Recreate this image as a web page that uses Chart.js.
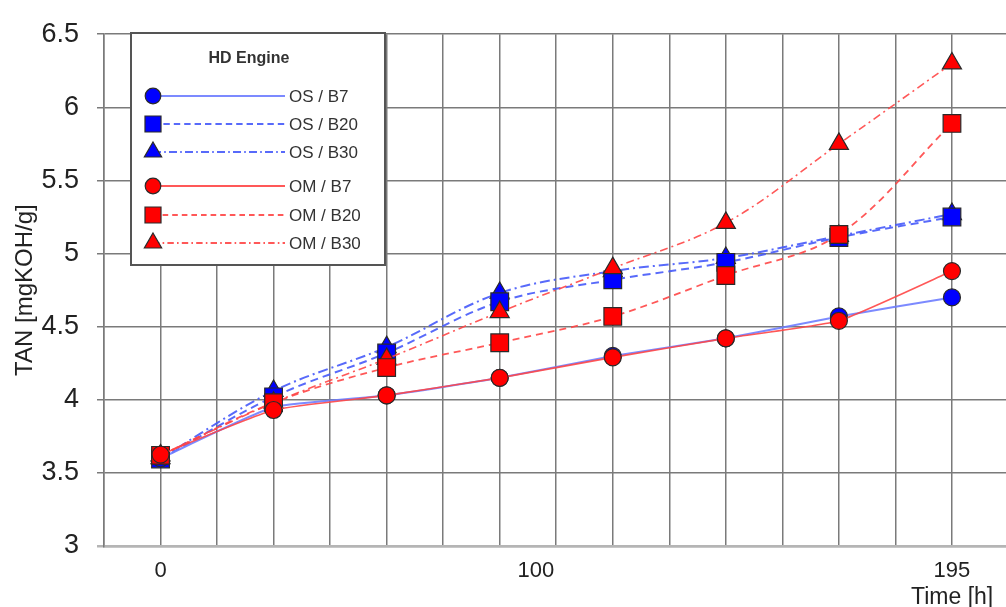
<!DOCTYPE html>
<html>
<head>
<meta charset="utf-8">
<script src="https://cdn.jsdelivr.net/npm/chart.js@4"></script>
<style>
  html, body { margin: 0; padding: 0; background: #fff; overflow: hidden; }
</style>
</head>
<body>
<canvas id="tanChart" width="1006" height="607"></canvas>
<script>
// sample slots (one every two grid cells), x tick labels and series
const samplePos = [0, 1, 2, 3, 4, 5, 6, 7];
const timeTickPos = [0, 3.32, 7];
const timeTickLabels = ['0', '100', '195'];
const seriesNames = ['OS / B7', 'OS / B20', 'OS / B30', 'OM / B7', 'OM / B20', 'OM / B30'];

const osB7  = [3.60, 3.95, 4.03, 4.15, 4.30, 4.42, 4.57, 4.70];
const osB20 = [3.595, 4.02, 4.32, 4.67, 4.82, 4.94, 5.11, 5.25];
const osB30 = [3.60, 4.06, 4.36, 4.73, 4.88, 4.97, 5.12, 5.27];
const omB7  = [3.625, 3.93, 4.03, 4.15, 4.29, 4.42, 4.54, 4.88];
const omB20 = [3.62, 3.98, 4.22, 4.39, 4.57, 4.85, 5.13, 5.89];
const omB30 = [3.62, 3.98, 4.28, 4.60, 4.90, 5.21, 5.75, 6.30];

const FONT = "'Liberation Sans', Arial, sans-serif";
const GRID = '#7a7a7a';
const BASE = '#b5b5b5';

function pts(vals) {
  return vals.map((v, i) => ({ x: samplePos[i], y: v }));
}

function series(label, vals, opts) {
  return Object.assign({
    label: label,
    data: pts(vals),
    pointBorderColor: '#2a2a2a',
    pointBorderWidth: 1.2,
    borderWidth: 2,
    fill: false
  }, opts);
}

const blueLine = 'rgba(70,90,250,0.9)';
const redLine = 'rgba(255,70,70,0.9)';

const datasets = [
  series(seriesNames[0], osB7,  { borderColor: 'rgba(110,125,255,0.9)', pointBackgroundColor: '#0000ff', pointStyle: 'circle', pointRadius: 8.5, borderDash: [], tension: 0.15, order: 3 }),
  series(seriesNames[1], osB20, { borderColor: blueLine, pointBackgroundColor: '#0000ff', pointStyle: 'rect', pointRadius: 12.5, borderDash: [8, 5], tension: 0.35, order: 4 }),
  series(seriesNames[2], osB30, { borderColor: blueLine, pointBackgroundColor: '#0000ff', pointStyle: 'triangle', pointRadius: 11, borderDash: [10, 4, 2, 4], tension: 0.35, order: 5 }),
  series(seriesNames[3], omB7,  { borderColor: redLine, pointBackgroundColor: '#ff0000', pointStyle: 'circle', pointRadius: 8.5, borderDash: [], borderWidth: 1.6, tension: 0.15, order: 0 }),
  series(seriesNames[4], omB20, { borderColor: redLine, pointBackgroundColor: '#ff0000', pointStyle: 'rect', pointRadius: 12.5, borderDash: [7, 5], borderWidth: 1.8, tension: 0.35, order: 1 }),
  series(seriesNames[5], omB30, { borderColor: redLine, pointBackgroundColor: '#ff0000', pointStyle: 'triangle', pointRadius: 11, borderDash: [8, 4, 2, 4], borderWidth: 1.6, tension: 0.35, order: 2 })
];

// marker used in the boxed legend
function drawMarker(ctx, style, x, y, fill) {
  ctx.save();
  ctx.fillStyle = fill;
  ctx.strokeStyle = '#2a2a2a';
  ctx.lineWidth = 1.2;
  ctx.setLineDash([]);
  ctx.beginPath();
  if (style === 'circle') {
    ctx.arc(x, y, 7.8, 0, Math.PI * 2);
  } else if (style === 'rect') {
    ctx.rect(x - 8, y - 8, 16, 16);
  } else {
    const r = 10;
    ctx.moveTo(x, y - r);
    ctx.lineTo(x + r * 0.866, y + r / 2);
    ctx.lineTo(x - r * 0.866, y + r / 2);
    ctx.closePath();
  }
  ctx.fill();
  ctx.stroke();
  ctx.restore();
}

const boxLegend = {
  id: 'boxLegend',
  afterDraw(chart) {
    const ctx = chart.ctx;
    const rowY = [96, 124, 152, 186, 215, 243];
    ctx.save();
    ctx.fillStyle = '#fff';
    ctx.fillRect(131, 33, 254, 232);
    ctx.strokeStyle = '#555';
    ctx.lineWidth = 2;
    ctx.strokeRect(131, 33, 254, 232);

    ctx.fillStyle = '#333';
    ctx.font = 'bold 16px ' + FONT;
    ctx.textAlign = 'center';
    ctx.textBaseline = 'middle';
    ctx.fillText('HD Engine', 249, 59);

    chart.data.datasets.forEach((ds, i) => {
      const y = rowY[i];
      ctx.save();
      ctx.strokeStyle = ds.borderColor;
      ctx.lineWidth = 2;
      ctx.setLineDash(ds.borderDash.length ? ds.borderDash.map(d => d * 0.8) : []);
      ctx.beginPath();
      ctx.moveTo(153, y);
      ctx.lineTo(285, y);
      ctx.stroke();
      ctx.restore();
      drawMarker(ctx, ds.pointStyle, 153, y, ds.pointBackgroundColor);
      ctx.fillStyle = '#333';
      ctx.font = '17px ' + FONT;
      ctx.textAlign = 'left';
      ctx.fillText(ds.label, 289, y + 1);
    });
    ctx.restore();
  }
};

new Chart(document.getElementById('tanChart').getContext('2d'), {
  type: 'line',
  data: { datasets: datasets },
  plugins: [boxLegend],
  options: {
    responsive: false,
    animation: false,
    devicePixelRatio: 1,
    layout: { autoPadding: false, padding: { top: 24, right: 0, bottom: 0, left: 0 } },
    plugins: {
      legend: { display: false },
      tooltip: { enabled: false }
    },
    scales: {
      x: {
        type: 'linear',
        min: -0.5,
        max: 7.478,
        afterBuildTicks: function (scale) {
          const vals = [];
          for (let k = -1; k <= 14; k++) vals.push(k / 2);
          timeTickPos.forEach(p => { if (!vals.includes(p)) vals.push(p); });
          vals.sort((a, b) => a - b);
          scale.ticks = vals.map(v => ({ value: v }));
        },
        afterFit: function (scale) { scale.height = 61; },
        ticks: {
          autoSkip: false,
          maxRotation: 0,
          padding: 12,
          color: '#222',
          font: { family: FONT, size: 22 },
          callback: function (value) {
            const i = timeTickPos.indexOf(value);
            return i >= 0 ? timeTickLabels[i] : '';
          }
        },
        grid: {
          drawTicks: false,
          lineWidth: 1.5,
          color: function (c) {
            return c.tick && Number.isInteger(c.tick.value * 2) ? GRID : 'rgba(0,0,0,0)';
          }
        },
        border: { display: true, color: BASE, width: 2.5 },
        title: {
          display: true,
          text: 'Time [h]  ',
          align: 'end',
          color: '#222',
          padding: 0,
          font: { family: FONT, size: 23, lineHeight: '18px' }
        }
      },
      y: {
        min: 3,
        max: 6.5,
        afterFit: function (scale) { scale.width = 104; },
        ticks: {
          stepSize: 0.5,
          padding: 18,
          color: '#222',
          font: { family: FONT, size: 27 },
          callback: function (value) { return String(value); }
        },
        grid: {
          tickLength: 7,
          color: function (c) { return c.tick && c.tick.value === 3 ? BASE : GRID; },
          lineWidth: function (c) { return c.tick && c.tick.value === 3 ? 2.5 : 1.5; }
        },
        border: { display: true, color: GRID, width: 1.5 },
        title: {
          display: true,
          text: 'TAN [mgKOH/g]',
          color: '#222',
          padding: { top: 11, bottom: 0 },
          font: { family: FONT, size: 24 }
        }
      }
    }
  }
});
</script>
</body>
</html>
